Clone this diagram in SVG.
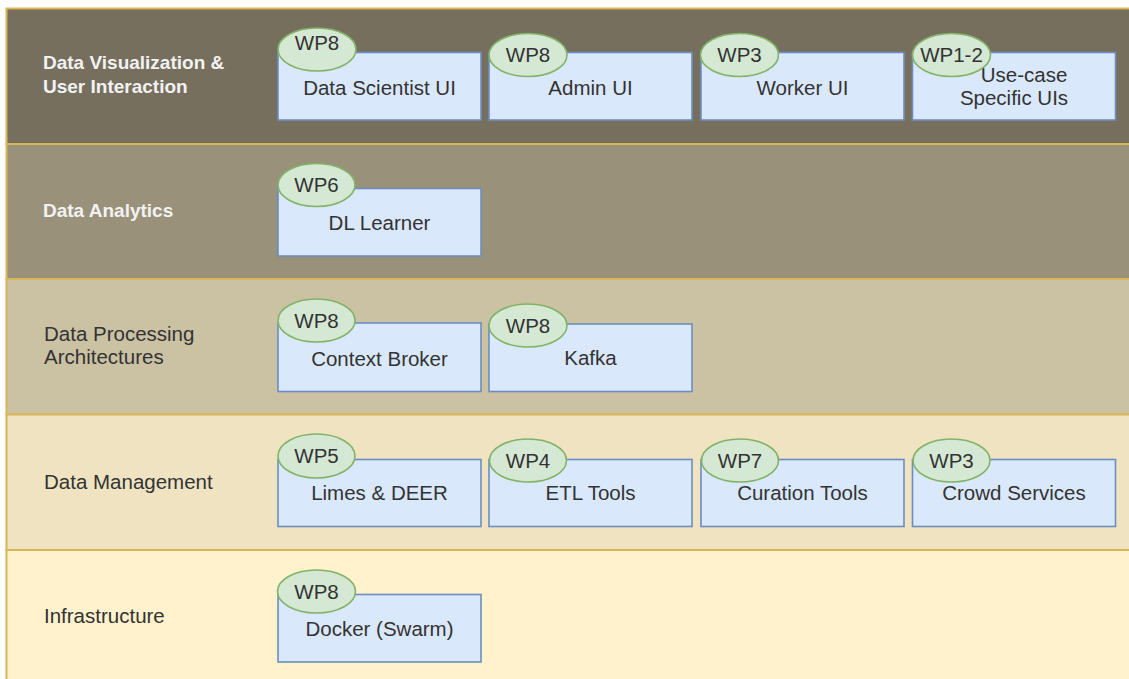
<svg xmlns="http://www.w3.org/2000/svg" width="1129" height="679" viewBox="0 0 1129 679">
<style>
.lane{stroke:#d6b656;stroke-width:2}
.box{fill:#dae8fc;stroke:#6c8ebf;stroke-width:1.6}
.wp{fill:#d5e8d4;stroke:#82b366;stroke-width:1.6}
.t{font-family:"Liberation Sans",Arial,sans-serif;font-size:20.5px;fill:#333333}
.c{text-anchor:middle}
.lb{font-family:"Liberation Sans",Arial,sans-serif;font-size:19px;font-weight:bold;fill:#f2f2f2}
.ll{font-family:"Liberation Sans",Arial,sans-serif;font-size:20.5px;fill:#333333}
</style>
<rect width="1129" height="679" fill="#ffffff"/>
<g id="lane-visualization">
<rect class="lane" x="6.5" y="8.5" width="1130" height="135.5" fill="#776f5e"/>
<text class="lb" x="43" y="69">Data Visualization &amp;</text>
<text class="lb" x="43" y="92.5">User Interaction</text>
</g>
<g id="lane-analytics">
<rect class="lane" x="6.5" y="144" width="1130" height="135" fill="#9a917a"/>
<text class="lb" x="43" y="216.5">Data Analytics</text>
</g>
<g id="lane-processing">
<rect class="lane" x="6.5" y="279" width="1130" height="135.5" fill="#cbc1a3"/>
<text class="ll" x="44" y="341">Data Processing</text>
<text class="ll" x="44" y="363.5">Architectures</text>
</g>
<g id="lane-management">
<rect class="lane" x="6.5" y="414.5" width="1130" height="135.5" fill="#efe3c1"/>
<text class="ll" x="44" y="489">Data Management</text>
</g>
<g id="lane-infrastructure">
<rect class="lane" x="6.5" y="550" width="1130" height="140" fill="#fff2cc"/>
<text class="ll" x="44" y="623">Infrastructure</text>
</g>

<g id="data-scientist-ui">
<rect class="box" x="278" y="52.5" width="203" height="67.5"/>
<text class="t c" x="379.5" y="95">Data Scientist UI</text>
<ellipse class="wp" cx="317" cy="49.5" rx="39" ry="21.5"/>
<text class="t c" x="317" y="50">WP8</text>
</g>
<g id="admin-ui">
<rect class="box" x="489" y="52.5" width="203" height="67.5"/>
<text class="t c" x="590.5" y="95">Admin UI</text>
<ellipse class="wp" cx="528" cy="55" rx="39" ry="21.5"/>
<text class="t c" x="528" y="62">WP8</text>
</g>
<g id="worker-ui">
<rect class="box" x="701" y="52.5" width="203" height="67.5"/>
<text class="t c" x="802.5" y="95">Worker UI</text>
<ellipse class="wp" cx="739.5" cy="55" rx="39" ry="21.5"/>
<text class="t c" x="739.5" y="62">WP3</text>
</g>
<g id="usecase-uis">
<rect class="box" x="912.5" y="52.5" width="203" height="67.5"/>
<text class="t c" x="1024" y="82">Use-case</text>
<text class="t c" x="1014" y="105">Specific UIs</text>
<ellipse class="wp" cx="951.5" cy="55" rx="39" ry="21.5"/>
<text class="t c" x="951.5" y="62">WP1-2</text>
</g>

<g id="dl-learner">
<rect class="box" x="278" y="188.5" width="203" height="67.5"/>
<text class="t c" x="379.5" y="230">DL Learner</text>
<ellipse class="wp" cx="316.5" cy="185" rx="38.5" ry="21.5"/>
<text class="t c" x="316.5" y="192">WP6</text>
</g>

<g id="context-broker">
<rect class="box" x="278" y="323" width="203" height="68.5"/>
<text class="t c" x="379.5" y="366">Context Broker</text>
<ellipse class="wp" cx="316.5" cy="320.5" rx="38.5" ry="21.5"/>
<text class="t c" x="316.5" y="327.5">WP8</text>
</g>
<g id="kafka">
<rect class="box" x="489" y="324" width="203" height="67.5"/>
<text class="t c" x="590.5" y="365">Kafka</text>
<ellipse class="wp" cx="528" cy="325.5" rx="39" ry="21.5"/>
<text class="t c" x="528" y="332.5">WP8</text>
</g>

<g id="limes-deer">
<rect class="box" x="278" y="459.5" width="203" height="67"/>
<text class="t c" x="379.5" y="500">Limes &amp; DEER</text>
<ellipse class="wp" cx="316.5" cy="456" rx="38.5" ry="22"/>
<text class="t c" x="316.5" y="463">WP5</text>
</g>
<g id="etl-tools">
<rect class="box" x="489" y="459.5" width="203" height="67"/>
<text class="t c" x="590.5" y="500">ETL Tools</text>
<ellipse class="wp" cx="528" cy="460.5" rx="38.5" ry="21.5"/>
<text class="t c" x="528" y="467.5">WP4</text>
</g>
<g id="curation-tools">
<rect class="box" x="701" y="459.5" width="203" height="67"/>
<text class="t c" x="802.5" y="500">Curation Tools</text>
<ellipse class="wp" cx="740" cy="460.5" rx="38.5" ry="21.5"/>
<text class="t c" x="740" y="467.5">WP7</text>
</g>
<g id="crowd-services">
<rect class="box" x="912.5" y="459.5" width="203" height="67"/>
<text class="t c" x="1014" y="500">Crowd Services</text>
<ellipse class="wp" cx="951.5" cy="460.5" rx="38.5" ry="21.5"/>
<text class="t c" x="951.5" y="467.5">WP3</text>
</g>

<g id="docker-swarm">
<rect class="box" x="278" y="594.5" width="203" height="67.5"/>
<text class="t c" x="379.5" y="636">Docker (Swarm)</text>
<ellipse class="wp" cx="316.5" cy="591.5" rx="39" ry="21.5"/>
<text class="t c" x="316.5" y="598.5">WP8</text>
</g>
<g id="connectors"></g>
</svg>
